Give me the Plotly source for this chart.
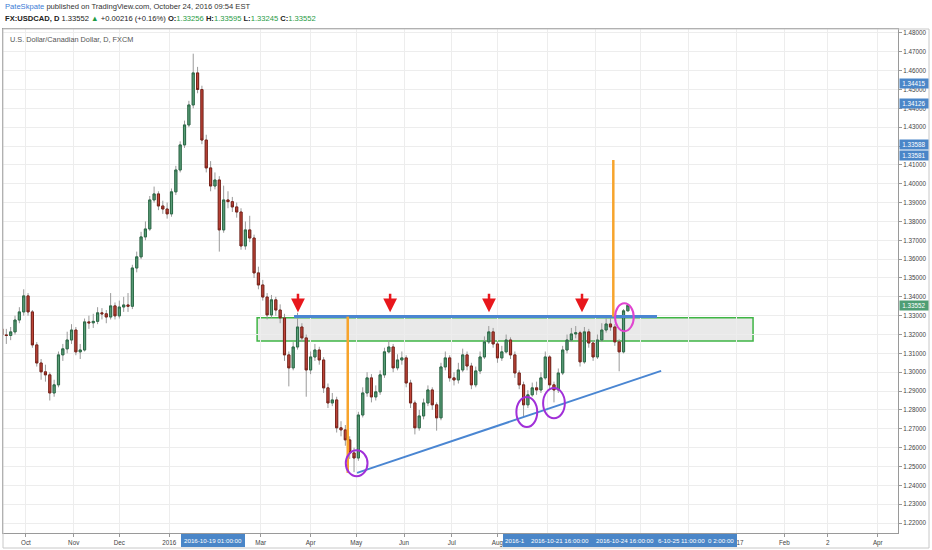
import plotly.graph_objects as go
import pandas as pd

# ---------------- data (2-trading-day candles) ----------------
first_open = 1.3230
closes = [
    1.3198, 1.3195, 1.3214, 1.3277, 1.3320, 1.3405, 1.3320, 1.3145, 1.3049, 1.3002,
    1.2986, 1.2890, 1.2933, 1.3092, 1.3124, 1.3171, 1.3224, 1.3108, 1.3118, 1.3267,
    1.3262, 1.3270, 1.3315, 1.3310, 1.3293, 1.3352, 1.3299, 1.3346, 1.3357, 1.3350,
    1.3553, 1.3612, 1.3718, 1.3760, 1.3914, 1.3946, 1.3882, 1.3866, 1.3840, 1.3957,
    1.4073, 1.4206, 1.4312, 1.4418, 1.4588, 1.4500, 1.4232, 1.4084, 1.3988, 1.4020,
    1.3755, 1.3914, 1.3905, 1.3877, 1.3850, 1.3670, 1.3755, 1.3712, 1.3527, 1.3463,
    1.3399, 1.3304, 1.3384, 1.3330, 1.3288, 1.3092, 1.3023, 1.3134, 1.3240, 1.3182,
    1.3012, 1.3081, 1.3118, 1.3065, 1.2917, 1.2837, 1.2853, 1.2705, 1.2694, 1.2641,
    1.2572, 1.2545, 1.2773, 1.2890, 1.2970, 1.2869, 1.2896, 1.2986, 1.3108, 1.3134,
    1.3023, 1.3065, 1.3076, 1.2943, 1.2837, 1.2705, 1.2768, 1.2837, 1.2906, 1.2827,
    1.2758, 1.3028, 1.3076, 1.2970, 1.2959, 1.3012, 1.3092, 1.3033, 1.2933, 1.3007,
    1.3081, 1.3161, 1.3214, 1.3150, 1.3076, 1.3108, 1.3171, 1.3092, 1.2996, 1.2933,
    1.2827, 1.2880, 1.2917, 1.2906, 1.2970, 1.3081, 1.2933, 1.2906, 1.2996, 1.3118,
    1.3171, 1.3203, 1.3209, 1.3055, 1.3214, 1.3155, 1.3081, 1.3171, 1.3224, 1.3256,
    1.3240, 1.3161, 1.3108, 1.33256, 1.33552]
highs = [
    1.3245, 1.3230, 1.3240, 1.3300, 1.3345, 1.3440, 1.3420, 1.3330, 1.3160, 1.3070,
    1.3040, 1.3000, 1.2960, 1.3110, 1.3150, 1.3215, 1.3255, 1.3240, 1.3150, 1.3285,
    1.3300, 1.3310, 1.3345, 1.3340, 1.3330, 1.3420, 1.3370, 1.3380, 1.3400, 1.3420,
    1.3570, 1.3640, 1.3745, 1.3800, 1.3935, 1.3985, 1.3960, 1.3910, 1.3900, 1.3975,
    1.4095, 1.4225, 1.4335, 1.4440, 1.4690, 1.4620, 1.4520, 1.4260, 1.4120, 1.4060,
    1.4040, 1.3990, 1.3960, 1.3930, 1.3900, 1.3870, 1.3800, 1.3830, 1.3730, 1.3560,
    1.3490, 1.3420, 1.3410, 1.3400, 1.3360, 1.3310, 1.3110, 1.3160, 1.3315, 1.3260,
    1.3200, 1.3110, 1.3150, 1.3135, 1.3080, 1.2940, 1.2890, 1.2870, 1.2740, 1.2720,
    1.2660, 1.2600, 1.2790, 1.2920, 1.3000, 1.2990, 1.2930, 1.3010, 1.3130, 1.3170,
    1.3150, 1.3095, 1.3110, 1.3090, 1.2960, 1.2850, 1.2800, 1.2860, 1.2930, 1.2920,
    1.2840, 1.3050, 1.3110, 1.3090, 1.3000, 1.3050, 1.3125, 1.3110, 1.3050, 1.3030,
    1.3110, 1.3190, 1.3245, 1.3235, 1.3165, 1.3140, 1.3200, 1.3185, 1.3110, 1.3010,
    1.2950, 1.2905, 1.2945, 1.2950, 1.3000, 1.3110, 1.3090, 1.2950, 1.3020, 1.3140,
    1.3200, 1.3235, 1.3245, 1.3220, 1.3240, 1.3230, 1.3170, 1.3200, 1.3260, 1.3300,
    1.3290, 1.3255, 1.3175, 1.3335, 1.33595]
lows = [
    1.3010, 1.3150, 1.3170, 1.3200, 1.3260, 1.3300, 1.3300, 1.3130, 1.3030, 1.2960,
    1.2950, 1.2850, 1.2870, 1.2920, 1.3060, 1.3100, 1.3150, 1.3090, 1.3070, 1.3110,
    1.3230, 1.3235, 1.3255, 1.3280, 1.3260, 1.3280, 1.3280, 1.3285, 1.3320, 1.3320,
    1.3335, 1.3530, 1.3600, 1.3700, 1.3750, 1.3900, 1.3860, 1.3840, 1.3815, 1.3825,
    1.3940, 1.4060, 1.4190, 1.4300, 1.4400, 1.4480, 1.4210, 1.4060, 1.3960, 1.3970,
    1.3640, 1.3740, 1.3870, 1.3850, 1.3820, 1.3650, 1.3650, 1.3690, 1.3500, 1.3440,
    1.3380, 1.3280, 1.3290, 1.3300, 1.3260, 1.3060, 1.2925, 1.3010, 1.3120, 1.3160,
    1.2870, 1.2990, 1.3060, 1.3040, 1.2890, 1.2810, 1.2820, 1.2680, 1.2660, 1.2610,
    1.2540, 1.2470, 1.2530, 1.2760, 1.2870, 1.2840, 1.2850, 1.2880, 1.2970, 1.3100,
    1.3000, 1.3010, 1.3040, 1.2920, 1.2810, 1.2670, 1.2690, 1.2750, 1.2820, 1.2800,
    1.2690, 1.2745, 1.3010, 1.2950, 1.2930, 1.2940, 1.3000, 1.3010, 1.2910, 1.2920,
    1.2990, 1.3070, 1.3150, 1.3130, 1.3050, 1.3060, 1.3100, 1.3070, 1.2970, 1.2910,
    1.2765, 1.2810, 1.2870, 1.2880, 1.2890, 1.2960, 1.2910, 1.2840, 1.2890, 1.2985,
    1.3100, 1.3160, 1.3180, 1.3030, 1.3045, 1.3130, 1.3060, 1.3070, 1.3160, 1.3210,
    1.3220, 1.3140, 1.3005, 1.3100, 1.33245]
opens = [first_open] + closes[:-1]

# trading-day calendar (TradingView spaces bars by trading day)
calendar = pd.bdate_range("2015-09-15", "2017-04-28")
candle_dates = calendar[1:290:2]
x = [calendar.get_loc(d) for d in candle_dates]

month_ticks = [("2015-10-01", "Oct"), ("2015-11-01", "Nov"), ("2015-12-01", "Dec"),
               ("2016-01-01", "2016"), ("2016-03-01", "Mar"), ("2016-04-01", "Apr"),
               ("2016-05-01", "May"), ("2016-06-01", "Jun"), ("2016-07-01", "Jul"),
               ("2016-08-01", "Aug"), ("2016-09-01", "Sep"), ("2016-10-01", "Oct"),
               ("2016-11-01", "Nov"), ("2016-12-01", "Dec"), ("2017-01-01", "2017"),
               ("2017-02-01", "Feb"), ("2017-03-01", "2"), ("2017-04-01", "Apr")]
tickvals = [int(calendar.searchsorted(pd.Timestamp(d))) for d, _ in month_ticks]
ticktext = [t for _, t in month_ticks]
price_ticks = [round(1.22 + 0.01 * k, 2) for k in range(27)]
price_labels = ["%.5f" % v for v in price_ticks]

# ---------------- figure ----------------
W, H = 932, 550
ML, MR, MT, MB = 3, 34, 29, 17
PW, PH = W - ML - MR, H - MT - MB


def px(v):
    return (v - ML) / PW


def py(v):
    return (H - MB - v) / PH


body_hi = [max(o, c) for o, c in zip(opens, closes)]
body_lo = [min(o, c) for o, c in zip(opens, closes)]

fig = go.Figure()
# wicks
fig.add_trace(go.Candlestick(
    x=x, open=opens, high=highs, low=lows, close=closes,
    increasing=dict(line=dict(color="#9a9a9a", width=1), fillcolor="#9a9a9a"),
    decreasing=dict(line=dict(color="#9a9a9a", width=1), fillcolor="#9a9a9a"),
    hoverinfo="skip", showlegend=False))
# bodies
fig.add_trace(go.Candlestick(
    x=x, open=opens, high=body_hi, low=body_lo, close=closes,
    increasing=dict(line=dict(color="#2b6b47", width=1), fillcolor="#5a9d78"),
    decreasing=dict(line=dict(color="#7a2219", width=1), fillcolor="#c0463a"),
    hoverinfo="skip", showlegend=False))

shapes = []
# grey zone with green border
shapes.append(dict(type="rect", xref="x", yref="y", x0=118.4, x1=346.6, y0=1.3166, y1=1.3289,
                   fillcolor="rgba(215,215,215,0.55)", line=dict(color="#3fb545", width=1.5),
                   layer="below"))
# resistance line
shapes.append(dict(type="line", xref="x", yref="y", x0=135.4, x1=302.4, y0=1.3295, y1=1.3295,
                   line=dict(color="#4a86d2", width=3)))
# rising trend line
shapes.append(dict(type="line", xref="x", yref="y", x0=164.4, x1=304.3, y0=1.2466, y1=1.3007,
                   line=dict(color="#4a86d2", width=2)))
# orange measuring lines
shapes.append(dict(type="line", xref="x", yref="y", x0=160.1, x1=160.1, y0=1.2466, y1=1.3295,
                   line=dict(color="#f7a42c", width=2.5)))
shapes.append(dict(type="line", xref="x", yref="y", x0=282.3, x1=282.3, y0=1.3295, y1=1.4126,
                   line=dict(color="#f7a42c", width=2.5)))
# circles
for cx, cy, rx, ry, col in [(164.2, 1.2517, 5.0, 0.0069, "#a12fd8"),
                             (242.5, 1.2789, 4.8, 0.0080, "#a12fd8"),
                             (255.0, 1.2836, 5.0, 0.0080, "#a12fd8"),
                             (287.4, 1.3292, 4.3, 0.0074, "#e045d0")]:
    shapes.append(dict(type="circle", xref="x", yref="y", x0=cx - rx, x1=cx + rx,
                       y0=cy - ry, y1=cy + ry, line=dict(color=col, width=2)))
# outer frame
shapes.append(dict(type="rect", xref="paper", yref="paper", x0=px(3), x1=px(929),
                   y0=py(548), y1=py(29), line=dict(color="#c8c8c8", width=1)))
# blue crosshair boxes on time axis
shapes.append(dict(type="rect", xref="paper", yref="paper", x0=px(181), x1=px(245),
                   y0=py(547), y1=py(534), fillcolor="#4a86c8", line=dict(width=0), layer="above"))
shapes.append(dict(type="rect", xref="paper", yref="paper", x0=px(503), x1=px(737),
                   y0=py(547), y1=py(534), fillcolor="#4a86c8", line=dict(width=0), layer="above"))

ann = []
FONT = "Liberation Sans, Arial, sans-serif"
ann.append(dict(xref="paper", yref="paper", x=px(3), y=py(7), xanchor="left", yanchor="middle",
                showarrow=False, font=dict(family=FONT, size=7.6, color="#333"),
                text="<span style='color:#3a7bd5'>PateSkpate</span> published on TradingView.com, October 24, 2016 09:54 EST"))
G = "#1f9b45"
ann.append(dict(xref="paper", yref="paper", x=px(3), y=py(18), xanchor="left", yanchor="middle",
                showarrow=False, font=dict(family=FONT, size=7.6, color="#222"),
                text=("<b>FX:USDCAD, D</b> 1.33552 <span style='color:%s'>▲</span> +0.00216 (+0.16%%) "
                      "<b>O:</b><span style='color:%s'>1.33256</span> <b>H:</b><span style='color:%s'>1.33595</span> "
                      "<b>L:</b><span style='color:%s'>1.33245</span> <b>C:</b><span style='color:%s'>1.33552</span>")
                % (G, G, G, G, G)))
ann.append(dict(xref="paper", yref="paper", x=px(8), y=py(39), xanchor="left", yanchor="middle",
                showarrow=False, font=dict(family=FONT, size=7.3, color="#555"),
                text="U.S. Dollar/Canadian Dollar, D, FXCM"))
# red arrows
for ax_i in [137.2, 179.6, 225.1, 267.9]:
    ann.append(dict(xref="x", yref="y", x=ax_i, y=1.3318, ax=0, ay=-20, text="",
                    showarrow=True, arrowhead=2, arrowsize=1.1, arrowwidth=2.5, arrowcolor="#e8171c"))
# right-axis labels
for ypix, txt, col in [(84, "1.34415", "#4a86c8"), (103, "1.34126", "#4a86c8"),
                       (144, "1.33588", "#4a86c8"), (155, "1.33581", "#4a86c8"),
                       (305, "1.33552", "#4e9e74")]:
    ann.append(dict(xref="paper", yref="paper", x=px(899), y=py(ypix), xanchor="left", yanchor="middle",
                    showarrow=False, text=txt, bgcolor=col, borderpad=1, width=26,
                    font=dict(family=FONT, size=6.3, color="white")))
# time-axis crosshair texts
for xpix, txt in [(213, "2016-10-19 01:00:00"), (515, "2016-1"), (560, "2016-10-21 16:00:00"),
                  (625, "2016-10-24 16:00:00"), (681, "6-10-25 11:00:00"), (721, "0 2:00:00")]:
    ann.append(dict(xref="paper", yref="paper", x=px(xpix), y=py(540.5), xanchor="center",
                    yanchor="middle", showarrow=False, text=txt,
                    font=dict(family=FONT, size=6.2, color="white")))

fig.update_layout(
    width=W, height=H, margin=dict(l=ML, r=MR, t=MT, b=MB, autoexpand=False),
    paper_bgcolor="white", plot_bgcolor="white",
    showlegend=False, boxgap=0.3, hovermode=False,
    shapes=shapes, annotations=ann,
    font=dict(family=FONT, size=6.3, color="#444"),
    xaxis=dict(range=[1.47, 413.3], tickmode="array", tickvals=tickvals, ticktext=ticktext,
               showgrid=True, gridcolor="#ededed", gridwidth=1, zeroline=False,
               ticks="outside", ticklen=3, tickcolor="#999", tickfont=dict(size=6.3, color="#444"),
               showline=True, linecolor="#9a9a9a", mirror=True, rangeslider=dict(visible=False),
               fixedrange=True, automargin=False),
    yaxis=dict(range=[1.2147, 1.4821], side="right", tickmode="array", tickvals=price_ticks,
               ticktext=price_labels, showgrid=True, gridcolor="#ededed", gridwidth=1, zeroline=False,
               ticks="outside", ticklen=3, tickcolor="#999", tickfont=dict(size=6.3, color="#444"),
               showline=True, linecolor="#9a9a9a", mirror=True, fixedrange=True, automargin=False),
)

fig.write_html("out.html", config={"displayModeBar": False},
               post_script="document.body.style.margin='0px';document.body.style.overflow='hidden';")
